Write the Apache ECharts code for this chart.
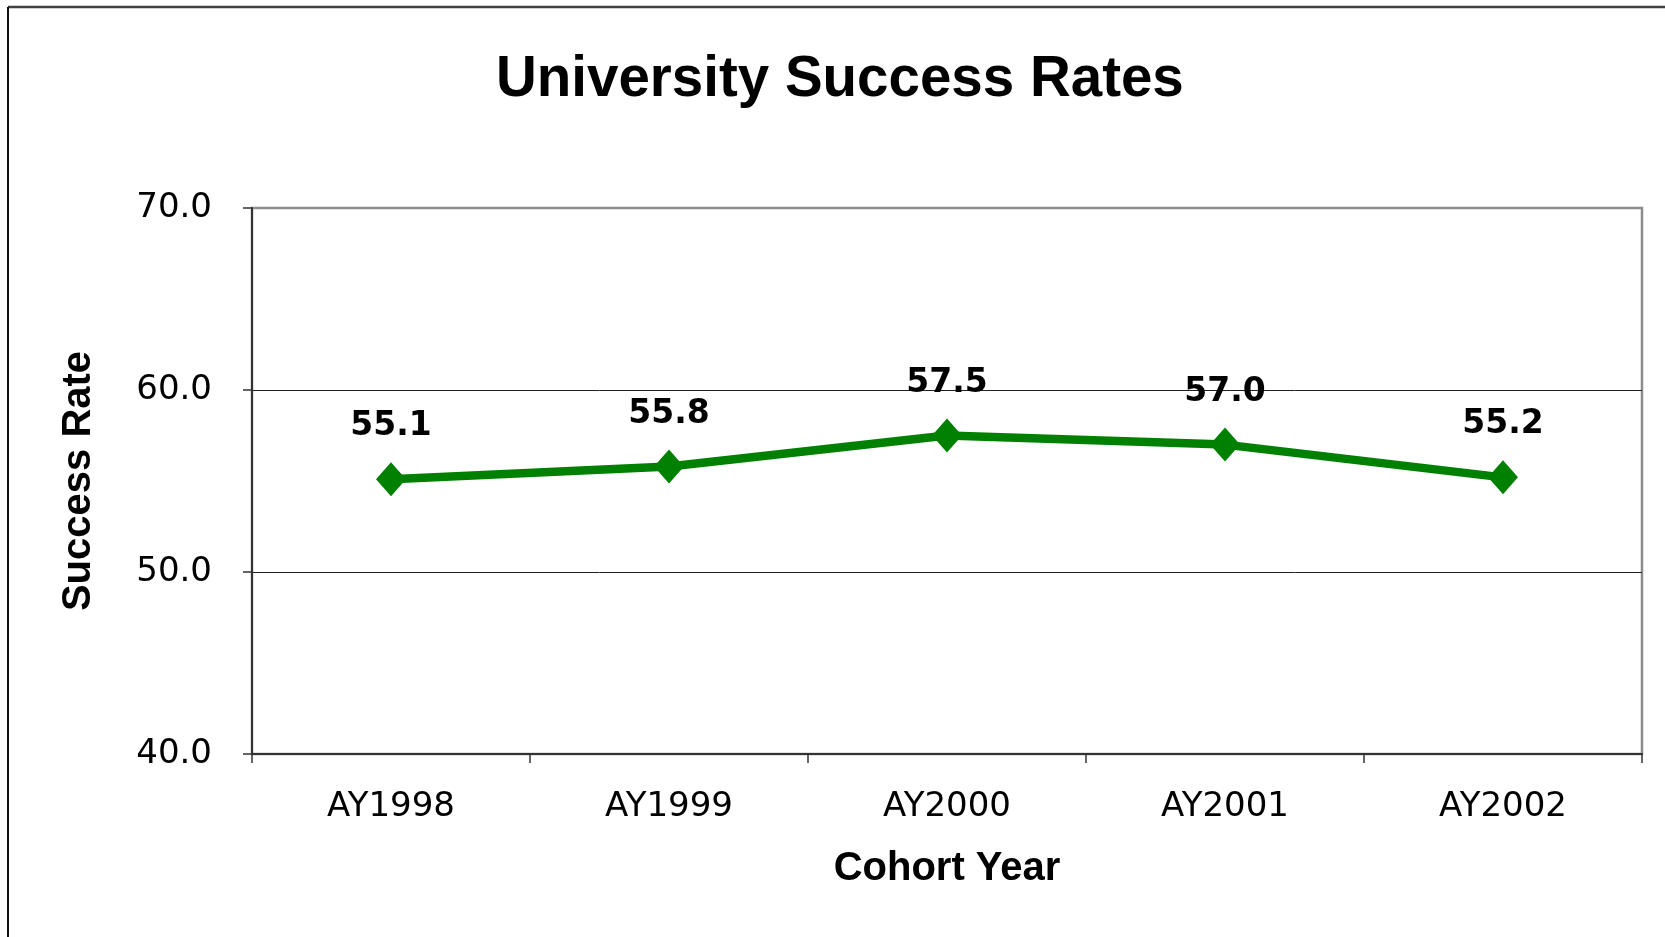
<!DOCTYPE html>
<html>
	<head>
		<meta charset="utf-8">
		<script src="https://cdn.jsdelivr.net/npm/echarts@6/dist/echarts.min.js"></script>
		<style>
			html, body { margin: 0; padding: 0; background: #fff; }
			#main { width: 1665px; height: 937px; }
		</style>
	</head>
	<body>
		<div id="main"></div>
		<script>
			// data
			var cohortYears = ['AY1998', 'AY1999', 'AY2000', 'AY2001', 'AY2002'];
			var successRates = [55.1, 55.8, 57.5, 57.0, 55.2];
			var yMin = 40, yMax = 70, yStep = 10;

			var dark = '#333333';
			var green = '#008000';

			var option = {
				backgroundColor: '#ffffff',
				animation: false,
				title: {
					text: 'University Success Rates',
					left: 491,
					top: 47,
					textStyle: {
						fontFamily: 'Liberation Sans',
						fontWeight: 'bold',
						fontSize: 56.5,
						color: '#000'
					}
				},
				// outer frame, only top and left edges show in the picture
				graphic: [
					{ type: 'line', shape: { x1: 8, y1: 7, x2: 1665, y2: 7 }, style: { stroke: '#404040', lineWidth: 2.5 } },
					{ type: 'line', shape: { x1: 8, y1: 7, x2: 8, y2: 937 }, style: { stroke: '#111', lineWidth: 2 } }
				],
				grid: {
					left: 252,
					right: 23,
					top: 208,
					bottom: 183,
					show: true,
					borderColor: '#8c8c8c',
					borderWidth: 2.5,
					backgroundColor: '#fff'
				},
				xAxis: {
					type: 'category',
					data: cohortYears,
					boundaryGap: true,
					name: 'Cohort Year',
					nameLocation: 'middle',
					nameGap: 95,
					nameTextStyle: {
						fontFamily: 'Liberation Sans',
						fontWeight: 'bold',
						fontSize: 40,
						color: '#000'
					},
					axisLine: { show: true, lineStyle: { color: dark, width: 2 } },
					axisTick: { show: true, length: 9, lineStyle: { color: dark, width: 1.5 } },
					axisLabel: {
						margin: 36,
						fontFamily: 'DejaVu Sans',
						fontSize: 34,
						color: '#000'
					},
					splitLine: { show: false }
				},
				yAxis: {
					type: 'value',
					min: yMin,
					max: yMax,
					interval: yStep,
					name: 'Success Rate',
					nameLocation: 'middle',
					nameRotate: 90,
					nameGap: 153,
					nameTextStyle: {
						fontFamily: 'Liberation Sans',
						fontWeight: 'bold',
						fontSize: 40,
						color: '#000'
					},
					axisLine: { show: true, lineStyle: { color: dark, width: 2 } },
					axisTick: { show: true, length: 9, lineStyle: { color: dark, width: 1.5 } },
					axisLabel: {
						margin: 40,
						padding: [10, 0, 0, 0],
						fontFamily: 'DejaVu Sans',
						fontSize: 34,
						color: '#000',
						formatter: function (v) { return v.toFixed(1); }
					},
					splitLine: {
						show: true,
						lineStyle: { color: ['transparent', '#222', '#222', 'transparent'], width: 1 }
					}
				},
				series: [
					{
						name: 'Success Rate',
						type: 'line',
						data: successRates,
						symbol: 'diamond',
						symbolSize: [30, 34],
						itemStyle: { color: green },
						lineStyle: { color: green, width: 8.5 },
						label: {
							show: true,
							position: 'top',
							distance: 19,
							fontFamily: 'DejaVu Sans',
							fontWeight: 'bold',
							fontSize: 33,
							color: '#000',
							formatter: function (p) { return p.value.toFixed(1); }
						}
					}
				]
			};

			var myChart = echarts.init(document.getElementById('main'));
			myChart.setOption(option, true);
		</script>
	</body>
</html>
